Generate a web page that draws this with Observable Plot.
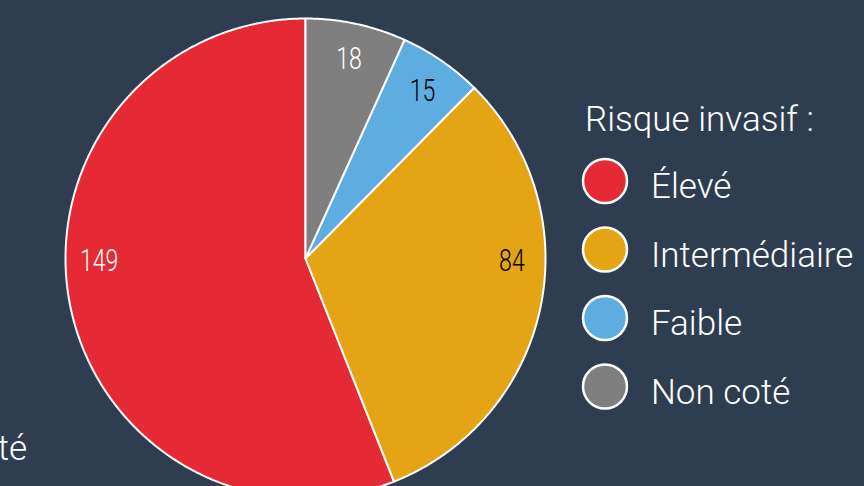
<!DOCTYPE html>
<html>
<head>
<meta charset="utf-8">
<script src="https://cdn.jsdelivr.net/npm/d3@7"></script>
<script src="https://cdn.jsdelivr.net/npm/@observablehq/plot@0.6"></script>
<style>
html, body { margin: 0; padding: 0; background: #2E3E50; }
#chart { position: relative; width: 864px; height: 486px; overflow: hidden; background: #2E3E50; }
#chart > svg { position: absolute; left: 0; top: 0; }
</style>
</head>
<body>
<div id="chart"></div>
<script>
// ---- data ----
const categories = ["Élevé", "Intermédiaire", "Faible", "Non coté"];
const values = [149, 84, 15, 18];
const colors = ["#E52A36", "#E4A414", "#5DADE0", "#7F7F7F"];
const legendTitle = "Risque invasif :";
const strayText = "Non coté";

// ---- layout ----
const W = 864, H = 486;
const cx = 305, cy = 258, R = 240;
const labelRadius = 0.86;

// ---- build slice polygons (counterclockwise from 12 o'clock) ----
const total = d3.sum(values);
const pts = [];
const labels = [];
let a = 0;
values.forEach((v, i) => {
  const a0 = a, a1 = a - v / total * 2 * Math.PI;
  const cat = categories[i];
  pts.push({cat, x: 0, y: 0});
  const n = Math.max(4, Math.ceil((a0 - a1) / (Math.PI / 360)));
  for (let k = 0; k <= n; k++) {
    const t = a0 + (a1 - a0) * k / n;
    pts.push({cat, x: Math.sin(t), y: Math.cos(t)});
  }
  pts.push({cat, x: 0, y: 0});
  // label angle: horizontal direction if the slice spans it, else mid-angle
  let la = (a0 + a1) / 2;
  for (const h of [-Math.PI / 2, -3 * Math.PI / 2]) {
    if (h <= a0 && h >= a1) { la = h; break; }
  }
  const c = d3.rgb(colors[i]);
  const lum = (0.2126 * c.r + 0.7152 * c.g + 0.0722 * c.b) / 255;
  labels.push({
    cat, value: v,
    x: labelRadius * Math.sin(la),
    y: labelRadius * Math.cos(la),
    dark: lum > 0.55
  });
  a = a1;
});

const txtFont = "Roboto, 'Liberation Sans', sans-serif";

const plot = Plot.plot({
  width: W,
  height: H,
  margin: 0,
  x: {domain: [-1, 1], range: [cx - R, cx + R], axis: null},
  y: {domain: [-1, 1], range: [cy + R, cy - R], axis: null},
  color: {domain: categories, range: colors},
  style: {background: "transparent", overflow: "visible"},
  marks: [
    Plot.line(pts, {x: "x", y: "y", z: "cat", fill: "cat", stroke: "white", strokeWidth: 2, strokeLinejoin: "round"}),
    Plot.text(labels.filter(d => !d.dark), {x: "x", y: "y", dy: 2, text: d => String(d.value), fill: "white", fontSize: 32, fontWeight: 300, fontFamily: txtFont, className: "num"}),
    Plot.text(labels.filter(d => d.dark), {x: "x", y: "y", dy: 2, text: d => String(d.value), fill: "black", fontSize: 32, fontWeight: 300, fontFamily: txtFont, className: "num"})
  ]
});
const chart = document.getElementById("chart");
chart.appendChild(plot);

// condense the numeric labels horizontally (condensed typeface look)
d3.select(plot).selectAll("g.num text").each(function() {
  const len = this.getComputedTextLength();
  this.setAttribute("textLength", (len * 0.72).toFixed(1));
  this.setAttribute("lengthAdjust", "spacingAndGlyphs");
});

// ---- legend overlay ----
const svg = d3.select(chart).append("svg")
  .attr("width", W).attr("height", H)
  .style("pointer-events", "none");

svg.append("text")
  .attr("x", 585).attr("y", 131)
  .attr("fill", "white")
  .attr("font-family", txtFont)
  .attr("font-weight", 300)
  .attr("font-size", 35)
  .text(legendTitle);

const item = svg.selectAll("g.item").data(categories).join("g")
  .attr("transform", (d, i) => `translate(605, ${181 + i * 68.5})`);
item.append("circle")
  .attr("r", 22)
  .attr("fill", (d, i) => colors[i])
  .attr("stroke", "white")
  .attr("stroke-width", 2.5);
item.append("text")
  .attr("x", 46).attr("y", 17)
  .attr("fill", "white")
  .attr("font-family", txtFont)
  .attr("font-weight", 300)
  .attr("font-size", 35)
  .text(d => d);

svg.append("text")
  .attr("x", 27).attr("y", 460)
  .attr("text-anchor", "end")
  .attr("fill", "white")
  .attr("font-family", txtFont)
  .attr("font-weight", 300)
  .attr("font-size", 35)
  .text(strayText);
</script>
</body>
</html>
